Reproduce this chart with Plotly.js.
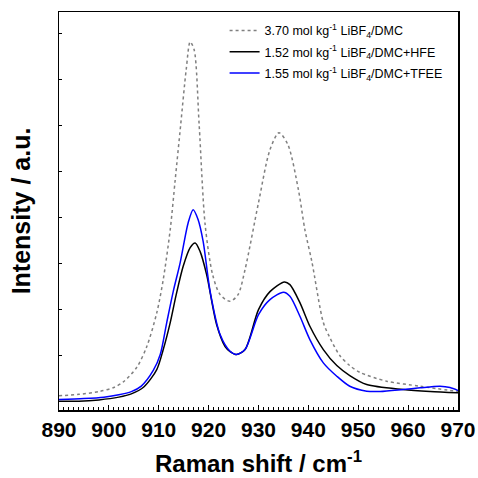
<!DOCTYPE html>
<html>
<head>
<meta charset="utf-8">
<script src="https://cdn.plot.ly/plotly-3.0.1.min.js"></script>
<style>html,body{margin:0;padding:0;background:#fff;}#chart{width:478px;height:478px;}</style>
</head>
<body>
<div id="chart"></div>
<script>
// Series 1: 3.70 mol/kg LiBF4/DMC (gray dashed)
const xDMC = [890, 894, 898, 901, 903, 905.6, 907.6, 909.6, 910.9, 912.3, 913.3, 914.4, 915.5, 916.3, 917.1, 918.1, 919.3, 920.8, 922.3, 924.3, 925.9, 927.3, 930.0, 932.3, 934.1, 935.9, 938.0, 939.3, 940.7, 943.0, 944.3, 946.3, 948.3, 950.4, 955.7, 962.4, 970];
const yDMC = [3.1, 3.4, 4.0, 4.9, 6.2, 9.3, 13.8, 21.13, 28.37, 39.24, 50.11, 62.07, 74.02, 80.11, 78.37, 62.07, 40.33, 29.46, 25.11, 23.65, 25.11, 30.54, 45.11, 56.63, 60.33, 57.72, 47.93, 39.24, 32.28, 19.02, 15.76, 11.85, 9.67, 8.15, 6.26, 5.17, 4.02];
// Series 2: 1.52 mol/kg LiBF4/DMC+HFE (black)
const xHFE = [890, 894, 898, 902, 904.5, 907, 909.6, 910.9, 912.3, 913.5, 914.9, 916.3, 917.3, 918.3, 919.6, 921.6, 923.3, 924.3, 925.6, 927.3, 930.0, 932.3, 935.2, 936.3, 938.3, 940.3, 943.0, 945.7, 948.3, 951.7, 959.0, 964.4, 970];
const yHFE = [1.9, 1.9, 2.2, 2.8, 3.5, 5.0, 8.8, 13.15, 19.02, 25.11, 31.26, 35.33, 36.35, 34.46, 29.46, 18.59, 13.80, 12.72, 12.07, 13.15, 21.85, 25.76, 27.87, 27.28, 23.37, 18.22, 13.15, 9.67, 7.50, 5.54, 4.46, 4.02, 3.74];
// Series 3: 1.55 mol/kg LiBF4/DMC+TFEE (blue)
const xTFEE = [890, 895, 899, 902, 904.5, 906.5, 908.9, 910.3, 911.6, 912.9, 914.3, 915.9, 916.9, 917.9, 918.9, 920.3, 922.3, 924.3, 925.6, 927.3, 930.0, 932.3, 935.0, 936.3, 938.3, 940.3, 943.0, 945.7, 948.3, 951.7, 954.4, 959.0, 962.4, 966.4, 968.4, 970];
const yTFEE = [2.3, 2.5, 2.8, 3.3, 4.0, 5.2, 8.6, 12.07, 19.02, 25.76, 32.07, 40.76, 43.59, 41.41, 36.70, 25.83, 16.41, 12.78, 12.07, 13.15, 20.76, 24.02, 25.61, 24.74, 20.39, 15.33, 10.26, 7.35, 5.17, 4.09, 4.02, 4.46, 4.83, 5.17, 4.89, 4.24];

const names = [
  "3.70 mol kg<sup>-1</sup> LiBF<sub>4</sub>/DMC",
  "1.52 mol kg<sup>-1</sup> LiBF<sub>4</sub>/DMC+HFE",
  "1.55 mol kg<sup>-1</sup> LiBF<sub>4</sub>/DMC+TFEE"
];
const xTickVals = [890, 900, 910, 920, 930, 940, 950, 960, 970];
const xTitle = 'Raman shift / cm<sup>-1</sup>';
const yTitle = 'Intensity / a.u.';

const FONT = "Liberation Sans, Arial, Helvetica, sans-serif";

const traces = [
  {x: xDMC, y: yDMC, name: names[0], legendgroup: 'a', mode: 'lines', line: {color: '#808080', width: 1.5, dash: '3px,3px', shape: 'spline', smoothing: 0.8}},
  {x: xHFE, y: yHFE, name: names[1], legendgroup: 'b', mode: 'lines', line: {color: '#000000', width: 1.5, shape: 'spline', smoothing: 0.8}},
  {x: xTFEE, y: yTFEE, name: names[2], legendgroup: 'c', mode: 'lines', line: {color: '#0000ff', width: 1.5, shape: 'spline', smoothing: 0.8}}
];

const layout = {
  width: 478, height: 478,
  margin: {l: 59, r: 20, t: 12, b: 68},
  paper_bgcolor: '#fff', plot_bgcolor: '#fff',
  font: {family: FONT, color: '#000'},
  showlegend: true,
  legend: {
    x: 0.415, xanchor: 'left', y: 0.99, yanchor: 'top',
    bgcolor: 'rgba(0,0,0,0)', borderwidth: 0,
    font: {family: FONT, size: 12.5, color: '#000'},
    tracegroupgap: 2
  },
  xaxis: {
    range: [890, 970],
    tickvals: xTickVals,
    ticks: 'inside', ticklen: 5, tickwidth: 1, tickcolor: '#000',
    minor: {dtick: 1, ticks: 'inside', ticklen: 3, tickwidth: 1, tickcolor: '#000'},
    showline: true, linecolor: '#000', linewidth: 1.5, mirror: true,
    showgrid: false, zeroline: false,
    tickfont: {family: FONT, size: 21, weight: 'bold', color: '#000'},
    ticklabelstandoff: 0
  },
  yaxis: {
    range: [0, 86.6],
    tick0: 11.9, dtick: 10,
    ticks: 'inside', ticklen: 3, tickwidth: 1, tickcolor: '#000',
    showticklabels: false,
    showline: true, linecolor: '#000', linewidth: 1.5, mirror: true,
    showgrid: false, zeroline: false,
    title: {text: yTitle, font: {family: FONT, size: 25, weight: 'bold', color: '#000'}, standoff: 20}
  },
  annotations: [{
    text: xTitle, xref: 'paper', yref: 'paper', x: 0.5, y: -0.131,
    xanchor: 'center', yanchor: 'middle', showarrow: false, borderpad: 0,
    font: {family: FONT, size: 24, weight: 'bold', color: '#000'}
  }]
};

Plotly.newPlot('chart', traces, layout, {displayModeBar: false, staticPlot: true});
</script>
</body>
</html>
